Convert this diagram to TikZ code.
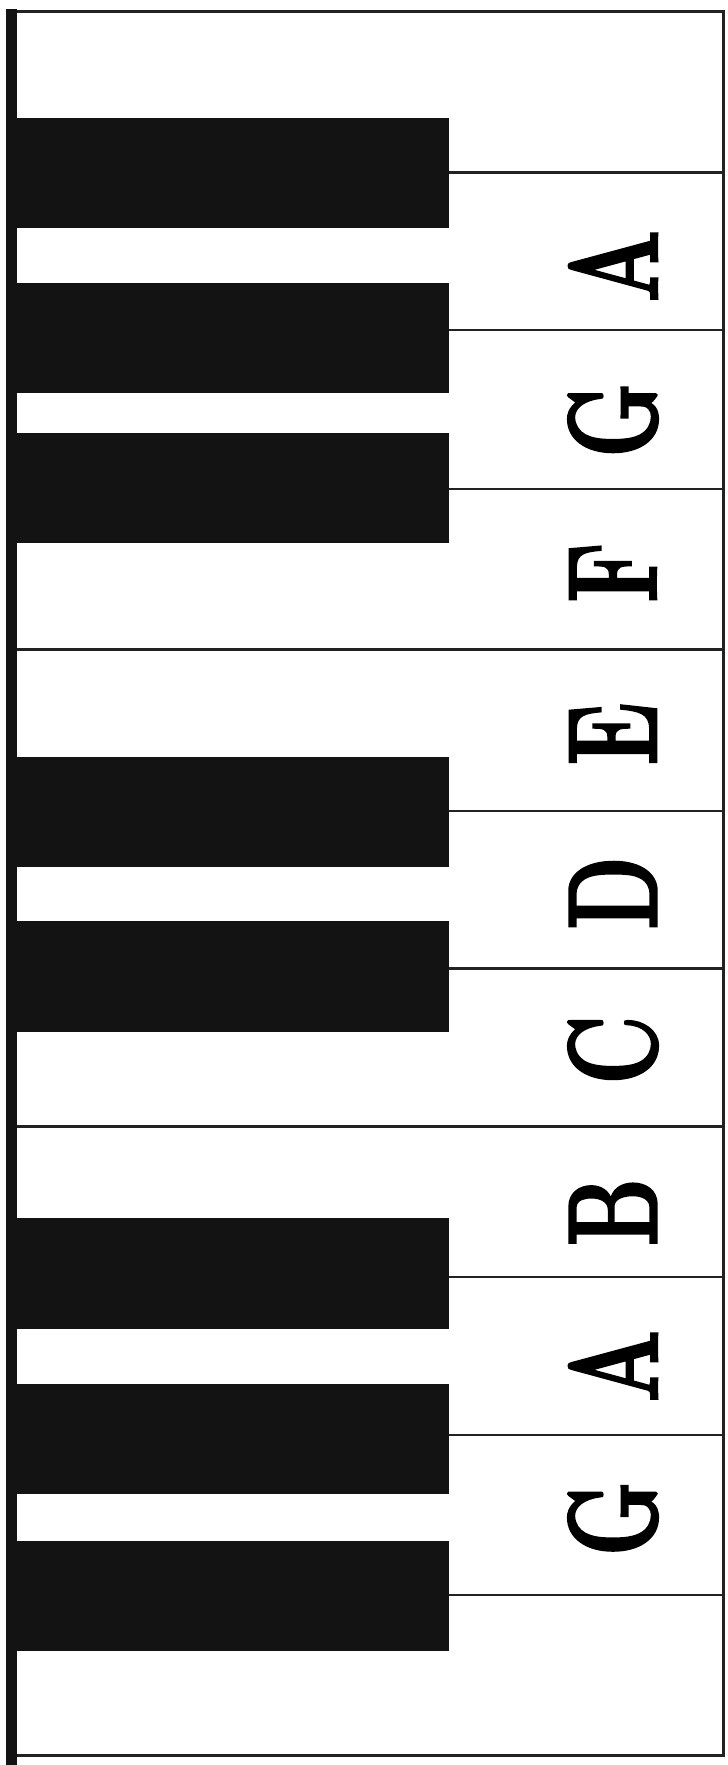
\documentclass[tikz,border=0pt]{standalone}
\usepackage{fontspec}
\newfontfamily\notefont{lmroman10-bold}[Extension=.otf,FakeBold=1.8]
\definecolor{keyblack}{RGB}{19,19,19}
\definecolor{linegray}{RGB}{34,34,34}
\tikzset{
  blackkey/.style={fill=keyblack},
  divider/.style={draw=linegray,line width=2.6pt},
  frameline/.style={draw=linegray,line width=3.2pt},
  notelabel/.style={inner sep=0pt,anchor=center,rotate=90,
    font=\notefont\fontsize{127}{127}\selectfont}
}
\newcommand{\notetxt}[1]{\scalebox{0.66}[1]{#1}}
\begin{document}
\begin{tikzpicture}[x=1pt,y=-1pt]
\useasboundingbox (0,0) rectangle (728,1765);
\fill[white] (0,0) rectangle (728,1765);
% frame
\draw[frameline] (17,11.7) -- (725,11.7);
\draw[frameline] (723.5,10) -- (723.5,1757);
\draw[frameline] (17,1755.5) -- (725,1755.5);
% left bar
\fill[keyblack] (6,9) rectangle (17.3,1765);
% dividers between white keys that have a black key
\foreach \y in {172.5,330,489,811,968.5,1277,1435,1595}
  \draw[divider] (449,\y) -- (723.5,\y);
% dividers without black key
\foreach \y in {649.5,1126.5}
  \draw[divider] (17,\y) -- (723.5,\y);
% black keys
\foreach \a/\b in {118/228,283/393,433/543,756.5/866.5,921/1032,1218/1329,1384/1494,1541/1650.5}
  \fill[blackkey] (17,\a) rectangle (449,\b);
% labels
\node[notelabel] (la1) at (613,266) {\notetxt{A}};
\node[notelabel] (lg1) at (613,420) {\notetxt{G}};
\node[notelabel] (lf) at (613,572.5) {\notetxt{F}};
\node[notelabel] (le) at (613,734) {\notetxt{E}};
\node[notelabel] (ld) at (613,893) {\notetxt{D}};
\node[notelabel] (lc) at (613,1050) {\notetxt{C}};
\node[notelabel] (lb) at (613,1212) {\notetxt{B}};
\node[notelabel] (la2) at (613,1366) {\notetxt{A}};
\node[notelabel] (lg2) at (613,1518.5) {\notetxt{G}};
\end{tikzpicture}
\end{document}
